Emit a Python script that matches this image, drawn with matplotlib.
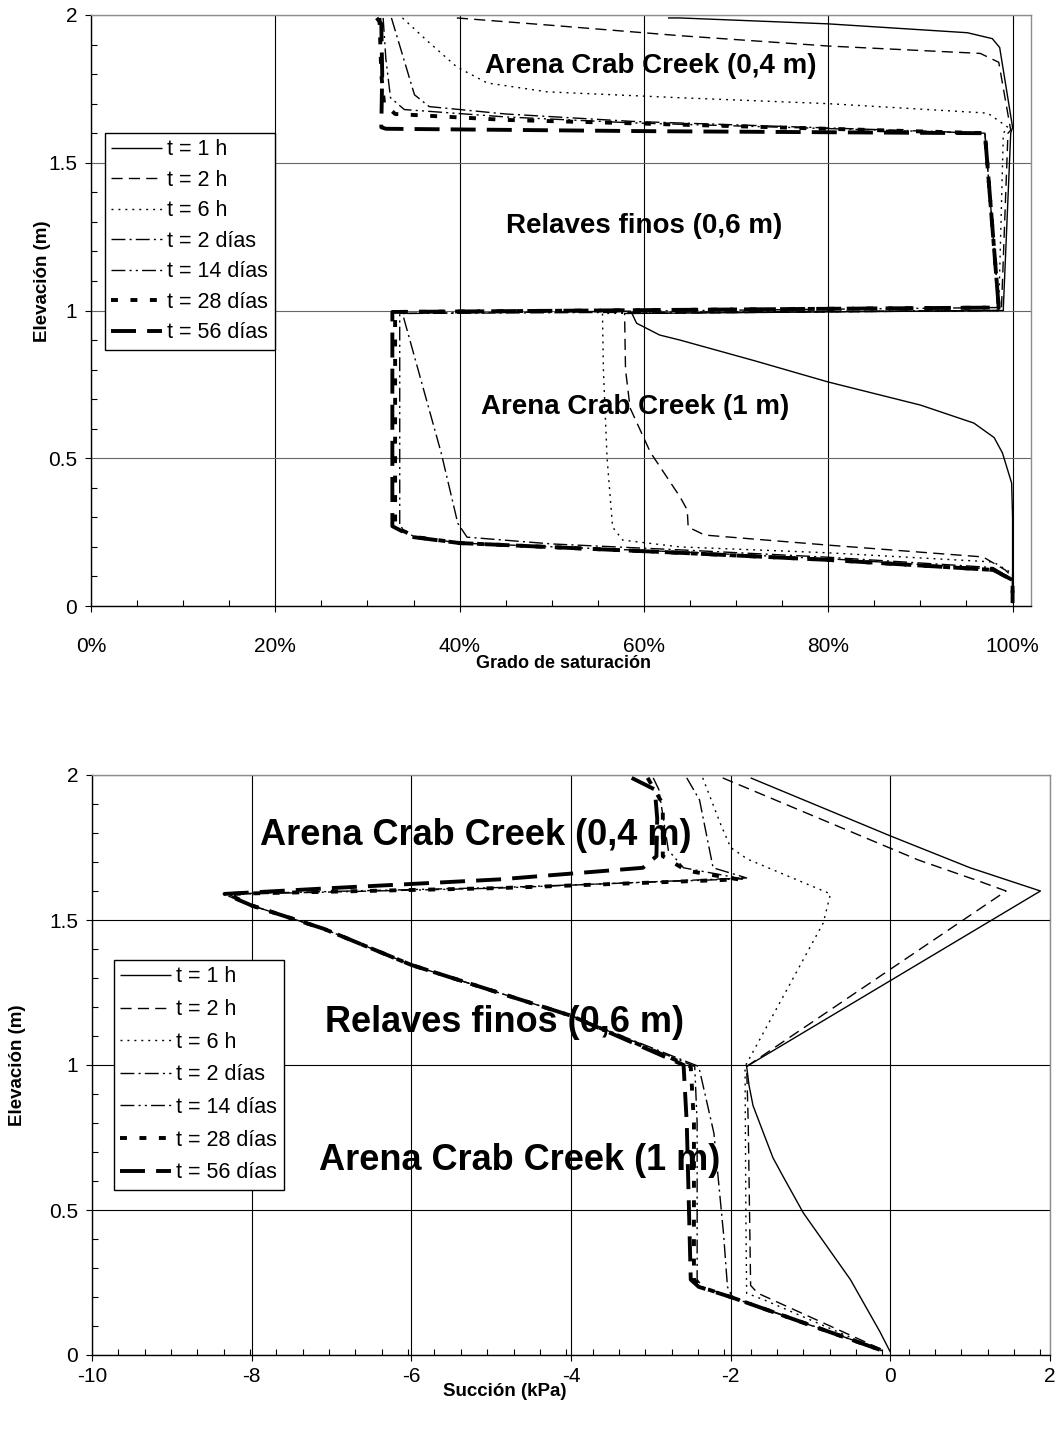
import numpy as np
import matplotlib
matplotlib.use("Agg")
import matplotlib.pyplot as plt
from matplotlib.ticker import FixedLocator

plt.rcParams['font.family'] = ['Liberation Sans', 'DejaVu Sans']
plt.rcParams['lines.scale_dashes'] = False

# ---------------------------------------------------------------------------
# Data: profiles of degree of saturation and suction vs elevation
# ---------------------------------------------------------------------------
series_labels = ["t = 1 h", "t = 2 h", "t = 6 h", "t = 2 días",
                 "t = 14 días", "t = 28 días", "t = 56 días"]

# Degree of saturation (fraction) and elevation (m)
sat_1h = [0.626, 0.639, 0.80, 0.951, 0.978, 0.986, 1.0, 0.998, 0.99, 0.99,
          0.587, 0.592, 0.617, 0.639, 0.72, 0.80, 0.90, 0.958, 0.98, 0.989,
          0.999, 1.0, 1.0]
zsat_1h = [1.99, 1.99, 1.97, 1.94, 1.92, 1.89, 1.62, 1.60, 1.01, 1.0,
           0.99, 0.957, 0.917, 0.90, 0.83, 0.758, 0.68, 0.619, 0.57, 0.518,
           0.416, 0.30, 0.01]

sat_2h = [0.397, 0.50, 0.639, 0.80, 0.965, 0.985, 0.998, 0.995, 0.988, 0.988,
          0.579, 0.58, 0.585, 0.607, 0.639, 0.647, 0.648, 0.666, 0.80, 0.968,
          0.992, 1.0, 1.0]
zsat_2h = [1.99, 1.965, 1.93, 1.895, 1.87, 1.84, 1.61, 1.60, 1.01, 1.0,
           0.99, 0.80, 0.67, 0.52, 0.37, 0.325, 0.267, 0.24, 0.206, 0.166,
           0.122, 0.098, 0.01]

sat_6h = [0.338, 0.364, 0.397, 0.43, 0.495, 0.639, 0.80, 0.973, 0.995, 0.99,
          0.985, 0.985, 0.555, 0.556, 0.56, 0.566, 0.577, 0.639, 0.80, 0.979,
          1.0, 1.0]
zsat_6h = [1.99, 1.915, 1.824, 1.77, 1.74, 1.72, 1.70, 1.668, 1.62, 1.60,
           1.01, 1.0, 0.99, 0.80, 0.50, 0.267, 0.223, 0.20, 0.18, 0.149,
           0.11, 0.01]

sat_2d = [0.326, 0.351, 0.367, 0.45, 0.587, 0.97, 0.985, 0.985, 0.338, 0.38,
          0.398, 0.408, 0.50, 0.639, 0.80, 0.979, 1.0, 1.0]
zsat_2d = [1.99, 1.73, 1.69, 1.665, 1.64, 1.60, 1.01, 1.0, 0.99, 0.518,
           0.28, 0.233, 0.21, 0.19, 0.165, 0.13, 0.09, 0.01]

sat_14d = [0.317, 0.32, 0.325, 0.34, 0.45, 0.587, 0.97, 0.985, 0.335, 0.335,
           0.35, 0.40, 0.639, 0.80, 0.979, 1.0, 1.0]
zsat_14d = [1.99, 1.85, 1.72, 1.68, 1.655, 1.635, 1.60, 1.01, 0.99, 0.27,
            0.235, 0.213, 0.183, 0.16, 0.125, 0.09, 0.01]

sat_28d = [0.313, 0.315, 0.318, 0.33, 0.45, 0.57, 0.97, 0.985, 0.33, 0.33,
           0.353, 0.40, 0.639, 0.80, 0.979, 1.0, 1.0]
zsat_28d = [1.99, 1.80, 1.70, 1.665, 1.645, 1.635, 1.60, 1.01, 0.995, 0.267,
            0.233, 0.213, 0.18, 0.156, 0.122, 0.088, 0.01]

sat_56d = [0.31, 0.315, 0.316, 0.315, 0.32, 0.60, 0.97, 0.985, 0.327, 0.327,
           0.35, 0.40, 0.639, 0.80, 0.979, 1.0, 1.0]
zsat_56d = [1.99, 1.97, 1.80, 1.62, 1.615, 1.607, 1.60, 1.01, 0.995, 0.27,
            0.233, 0.213, 0.18, 0.156, 0.122, 0.088, 0.01]

# Suction (kPa) and elevation (m)
suc_1h = [-1.75, 0.0, 1.0, 1.88, -1.8, -1.77, -1.72, -1.59, -1.47, -1.34,
          -1.09, -0.5, -0.13, 0.0]
zsuc_1h = [1.99, 1.79, 1.68, 1.60, 0.995, 0.93, 0.86, 0.766, 0.68, 0.614,
           0.49, 0.26, 0.08, 0.01]

suc_2h = [-2.1, 0.35, 1.1, 1.45, -1.8, -1.78, -1.75, -1.66, -0.09, -0.05]
zsuc_2h = [1.99, 1.707, 1.635, 1.60, 0.995, 0.80, 0.24, 0.213, 0.017, 0.01]

suc_6h = [-2.35, -2.125, -2.0, -1.79, -0.75, -0.84, -1.82, -1.81, -1.8,
          -1.58, -0.13, -0.08]
zsuc_6h = [1.99, 1.83, 1.75, 1.71, 1.59, 1.49, 0.995, 0.50, 0.213, 0.19,
           0.017, 0.01]

suc_2d = [-2.55, -2.39, -2.3, -2.22, -1.8, -4.9, -8.34, -8.0, -7.1, -6.0,
          -4.0, -2.4, -2.21, -2.09, -2.04, -1.98, -0.1]
zsuc_2d = [1.99, 1.914, 1.79, 1.68, 1.645, 1.61, 1.588, 1.55, 1.47, 1.345,
           1.17, 0.995, 0.765, 0.42, 0.235, 0.20, 0.015]

suc_14d = [-2.97, -2.9, -2.78, -2.59, -1.85, -4.9, -8.3, -8.0, -7.1, -6.0,
           -4.0, -2.45, -2.42, -2.42, -2.35, -2.0, -0.1]
zsuc_14d = [1.99, 1.95, 1.74, 1.68, 1.642, 1.612, 1.59, 1.55, 1.47, 1.345,
            1.17, 0.995, 0.80, 0.26, 0.235, 0.20, 0.015]

suc_28d = [-3.04, -2.85, -2.85, -2.55, -1.9, -4.9, -8.3, -8.0, -7.1, -6.0,
           -4.0, -2.5, -2.46, -2.46, -2.38, -2.0, -0.1]
zsuc_28d = [1.99, 1.90, 1.72, 1.67, 1.64, 1.61, 1.59, 1.55, 1.47, 1.345,
            1.17, 0.995, 0.80, 0.26, 0.235, 0.20, 0.015]

suc_56d = [-3.24, -2.95, -2.92, -2.93, -3.1, -4.9, -7.0, -8.34, -8.0, -7.1,
           -6.0, -4.0, -2.59, -2.55, -2.5, -2.4, -2.0, -0.1]
zsuc_56d = [1.99, 1.95, 1.85, 1.72, 1.68, 1.64, 1.61, 1.59, 1.55, 1.47,
            1.345, 1.17, 1.0, 0.80, 0.26, 0.235, 0.20, 0.015]

sat_ticks = [0.0, 0.2, 0.4, 0.6, 0.8, 1.0]
sat_ticklabels = ["0%", "20%", "40%", "60%", "80%", "100%"]
suc_ticks = [-10, -8, -6, -4, -2, 0, 2]
suc_ticklabels = ["-10", "-8", "-6", "-4", "-2", "0", "2"]
elev_ticks = [0, 0.5, 1.0, 1.5, 2.0]
elev_ticklabels = ["0", "0.5", "1", "1.5", "2"]

# ---------------------------------------------------------------------------
# Line styles for each time step
# ---------------------------------------------------------------------------
styles = [
    dict(ls='-', lw=1.0),
    dict(ls=(0, (8, 4.5)), lw=1.0),
    dict(ls=(0, (1.4, 3.6)), lw=1.0),
    dict(ls=(0, (10, 3, 1.5, 3)), lw=1.0),
    dict(ls=(0, (10, 3, 1.5, 3, 1.5, 3)), lw=1.0),
    dict(ls=(0, (5, 9)), lw=2.8),
    dict(ls=(0, (18, 8)), lw=2.8),
]

sat_series = [(sat_1h, zsat_1h), (sat_2h, zsat_2h), (sat_6h, zsat_6h),
              (sat_2d, zsat_2d), (sat_14d, zsat_14d), (sat_28d, zsat_28d),
              (sat_56d, zsat_56d)]
suc_series = [(suc_1h, zsuc_1h), (suc_2h, zsuc_2h), (suc_6h, zsuc_6h),
              (suc_2d, zsuc_2d), (suc_14d, zsuc_14d), (suc_28d, zsuc_28d),
              (suc_56d, zsuc_56d)]

W, H = 1055, 1429
fig = plt.figure(figsize=(W / 100, H / 100), dpi=100)


def px_axes(left, top, right, bottom):
    return fig.add_axes([left / W, 1 - bottom / H, (right - left) / W,
                         (bottom - top) / H])


def style_axes(ax, hgrid_color):
    for side in ('top', 'right'):
        ax.spines[side].set_color('#8c8c8c')
    for side in ('left', 'bottom'):
        ax.spines[side].set_color('black')
    for sp in ax.spines.values():
        sp.set_linewidth(1.0)
    ax.set_axisbelow(True)
    ax.grid(axis='x', which='major', color='black', lw=0.8)
    ax.grid(axis='y', which='major', color=hgrid_color, lw=0.8)
    ax.tick_params(which='major', direction='out', length=4, width=0.8,
                   labelsize=15)
    ax.tick_params(which='minor', direction='in', length=4, width=0.8)
    ax.tick_params(axis='y', which='major', pad=6)


def add_legend(ax, x0, y0, spacing):
    handles = ax.get_lines()[:7]
    leg = fig.legend(handles, series_labels, loc='upper left',
                     bbox_to_anchor=(x0 / W, 1 - y0 / H),
                     bbox_transform=fig.transFigure, borderaxespad=0,
                     fontsize=15.5, frameon=True, fancybox=False,
                     edgecolor='black', framealpha=1, handlelength=2.35,
                     handletextpad=0.25, labelspacing=spacing, borderpad=0.3)
    leg.get_frame().set_linewidth(1.0)
    return leg


# ---------------------------------------------------------------------------
# Upper panel: degree of saturation
# ---------------------------------------------------------------------------
ax1 = px_axes(91, 15, 1031, 606)
for (x, z), st in zip(sat_series, styles):
    ax1.plot(x, z, color='black', solid_capstyle='butt', dash_capstyle='butt',
             **st)
ax1.set_xlim(0, 1.02)
ax1.set_ylim(0, 2)
ax1.set_xticks(sat_ticks, labels=sat_ticklabels)
ax1.set_yticks(elev_ticks, labels=elev_ticklabels)
ax1.xaxis.set_minor_locator(FixedLocator(np.arange(0.05, 1.0, 0.05)))
ax1.yaxis.set_minor_locator(FixedLocator(np.arange(0.1, 2.0, 0.1)))
style_axes(ax1, '#666666')
ax1.tick_params(axis='x', which='major', pad=18)
ax1.set_xlabel("Grado de saturación", fontsize=13, fontweight='bold')
ax1.xaxis.set_label_coords(0.503, -0.0835)
ax1.set_ylabel("Elevación (m)", fontsize=13.5, fontweight='bold')
ax1.yaxis.set_label_coords(-0.043, 0.55)

txt_kw = dict(ha='center', va='center', fontweight='bold', color='black')
ax1.text(0.607, 1.827, "Arena Crab Creek (0,4 m)", fontsize=20, **txt_kw)
ax1.text(0.600, 1.286, "Relaves finos (0,6 m)", fontsize=20, **txt_kw)
ax1.text(0.590, 0.673, "Arena Crab Creek (1 m)", fontsize=20, **txt_kw)
add_legend(ax1, 105, 133, 0.44)

# ---------------------------------------------------------------------------
# Lower panel: suction
# ---------------------------------------------------------------------------
ax2 = px_axes(92, 775, 1050, 1355)
for (x, z), st in zip(suc_series, styles):
    ax2.plot(x, z, color='black', solid_capstyle='butt', dash_capstyle='butt',
             **st)
ax2.set_xlim(-10, 2)
ax2.set_ylim(0, 2)
ax2.set_xticks(suc_ticks, labels=suc_ticklabels)
ax2.set_yticks(elev_ticks, labels=elev_ticklabels)
ax2.xaxis.set_minor_locator(FixedLocator(np.arange(-9.67, 2.0, 0.33)))
ax2.yaxis.set_minor_locator(FixedLocator(np.arange(0.1, 2.0, 0.1)))
style_axes(ax2, 'black')
ax2.tick_params(axis='x', which='major', pad=5)
ax2.set_xlabel("Succión (kPa)", fontsize=13.5, fontweight='bold')
ax2.xaxis.set_label_coords(0.431, -0.049)
ax2.set_ylabel("Elevación (m)", fontsize=13.5, fontweight='bold')
ax2.yaxis.set_label_coords(-0.069, 0.5)

ax2.text(-5.19, 1.793, "Arena Crab Creek (0,4 m)", fontsize=26, **txt_kw)
ax2.text(-4.83, 1.148, "Relaves finos (0,6 m)", fontsize=26, **txt_kw)
ax2.text(-4.64, 0.672, "Arena Crab Creek (1 m)", fontsize=26, **txt_kw)
add_legend(ax2, 114, 960, 0.54)

fig.savefig("out.png", dpi=100, facecolor='white')
